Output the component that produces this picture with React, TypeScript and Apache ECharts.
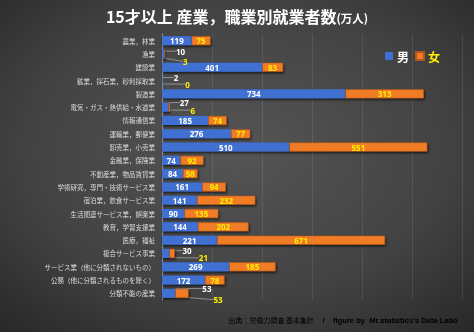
import React, { useEffect, useRef } from "react";
import * as echarts from "echarts";

const categories = [
  "農業，林業",
  "漁業",
  "建設業",
  "鉱業，採石業，砂利採取業",
  "製造業",
  "電気・ガス・熱供給・水道業",
  "情報通信業",
  "運輸業，郵便業",
  "卸売業，小売業",
  "金融業，保険業",
  "不動産業，物品賃貸業",
  "学術研究，専門・技術サービス業",
  "宿泊業，飲食サービス業",
  "生活関連サービス業，娯楽業",
  "教育，学習支援業",
  "医療，福祉",
  "複合サービス事業",
  "サービス業（他に分類されないもの）",
  "公務（他に分類されるものを除く）",
  "分類不能の産業",
];
const male = [119, 10, 401, 2, 734, 27, 185, 276, 510, 74, 84, 161, 141, 90, 144, 221, 30, 269, 172, 53];
const female = [75, 3, 83, 0, 313, 6, 74, 77, 551, 92, 58, 94, 232, 135, 202, 671, 21, 185, 78, 53];
const seriesNames = ["男", "女"];

// outside label offsets (from bar end, from row center): [dx, dy]
const maleOut: Record<number, [number, number]> = {
  1: [16, -2.8],
  3: [13.5, -3],
  5: [15.6, -4.6],
  16: [17.5, -2.8],
  19: [31.7, -5],
};
const femaleOut: Record<number, [number, number]> = {
  1: [20, 7.5],
  3: [24.8, 3.5],
  5: [22.5, 3],
  16: [28.7, 4.5],
  19: [29.5, 6.3],
};

const FONT = "'Noto Sans CJK JP', 'Noto Sans', sans-serif";
const NUMFONT = "'Noto Sans', 'DejaVu Sans', sans-serif";

export default function App() {
  const ref = useRef<HTMLDivElement>(null);
  useEffect(() => {
    if (!ref.current) return;
    const chart = echarts.init(ref.current, undefined, { renderer: "svg" });
    const mkLayout = (out: Record<number, [number, number]>) => (p: any) => {
      const o = out[p.dataIndex];
      if (!o) return {};
      const r = p.rect;
      return {
        x: r.x + r.width + o[0],
        y: r.y + r.height / 2 + o[1],
        align: "center",
        verticalAlign: "middle",
      };
    };
    const barShadow = {
      shadowBlur: 2,
      shadowColor: "rgba(0,0,0,0.7)",
      shadowOffsetX: 1,
      shadowOffsetY: 1.5,
    };
    const valueLabel = (color: string) => ({
      show: true,
      position: "inside",
      color,
      fontSize: 8,
      lineHeight: 8,
      fontWeight: "bold",
      fontFamily: NUMFONT,
    });
    chart.setOption({
      animation: false,
      backgroundColor: {
        type: "radial",
        x: 0.5,
        y: 0.45,
        r: 0.75,
        colorStops: [
          { offset: 0, color: "#555555" },
          { offset: 0.6, color: "#424242" },
          { offset: 1, color: "#272727" },
        ],
      },
      title: {
        text: "{a|15才以上 産業，職業別就業者数}{b|(万人)}",
        left: "center",
        top: 3,
        textStyle: {
          rich: {
            a: { fontSize: 16, fontWeight: "bold", color: "#ffffff", fontFamily: FONT },
            b: { fontSize: 11.5, fontWeight: "bold", color: "#ffffff", fontFamily: FONT, padding: [3, 0, 0, 0] },
          },
        },
      },
      legend: {
        data: [
          { name: "男", textStyle: { color: "#ffffff" } },
          { name: "女", textStyle: { color: "#ffee00" } },
        ],
        right: 29,
        top: 45,
        itemWidth: 8,
        itemHeight: 8,
        itemGap: 6,
        icon: "rect",
        textStyle: {
          fontSize: 12,
          fontWeight: "bold",
          fontFamily: FONT,
          padding: [0, 0, 0, -1],
        },
      },
      graphic: [
        {
          type: "text",
          right: 16,
          top: 316,
          style: {
            text: "{g|出典：労働力調査 基本集計}{s|    /    }{w|figure by  Mr.statistics's Data Labo}",
            rich: {
              g: { fontSize: 7, color: "#d8d8d8", fontFamily: FONT },
              s: { fontSize: 7.6, color: "#ffffff", fontWeight: "bold", fontFamily: "'Liberation Sans', sans-serif" },
              w: { fontSize: 7.6, color: "#ffffff", fontWeight: "bold", fontFamily: "'Liberation Sans', sans-serif" },
            },
          },
        },
      ],
      grid: { left: 162, right: 12, top: 34, bottom: 32 },
      xAxis: {
        type: "value",
        min: 0,
        max: 1200,
        interval: 200,
        axisLabel: { show: false },
        axisLine: { show: false },
        axisTick: { show: false },
        splitLine: { show: true, lineStyle: { color: "rgba(255,255,255,0.09)", width: 1 } },
      },
      yAxis: {
        type: "category",
        data: categories,
        inverse: true,
        axisTick: { show: false },
        axisLine: { show: true, lineStyle: { color: "#8496b8", width: 1 } },
        axisLabel: { color: "#dcdcdc", fontSize: 6.5, fontFamily: FONT, margin: 7 },
      },
      series: [
        {
          name: seriesNames[0],
          type: "bar",
          stack: "all",
          data: male,
          barCategoryGap: "32%",
          itemStyle: { color: "#3f6fd2", ...barShadow },
          label: valueLabel("#ffffff"),
          labelLayout: mkLayout(maleOut),
          labelLine: { show: true, lineStyle: { color: "#b0b0b0", width: 0.7 } },
        },
        {
          name: seriesNames[1],
          type: "bar",
          stack: "all",
          data: female,
          barCategoryGap: "32%",
          itemStyle: { color: "#f07c25", borderColor: "#b4561a", borderWidth: 0.5, ...barShadow },
          label: valueLabel("#ffee00"),
          labelLayout: mkLayout(femaleOut),
          labelLine: { show: true, lineStyle: { color: "#b0b0b0", width: 0.7 } },
        },
      ],
    });
    return () => chart.dispose();
  }, []);
  return (
    <div
      ref={ref}
      style={{ position: "fixed", left: 0, top: 0, width: 474, height: 332 }}
    />
  );
}
